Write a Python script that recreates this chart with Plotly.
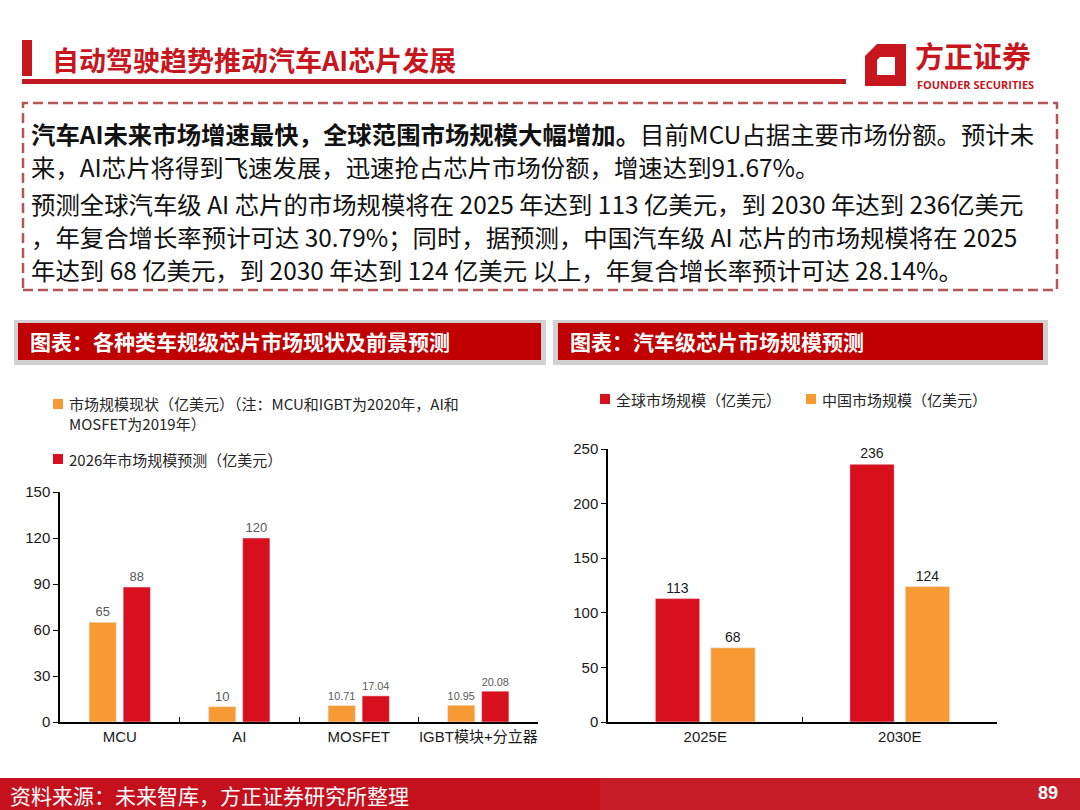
import plotly.graph_objects as go

W, H = 1080, 810

# ---------------------------------------------------------
# Data
# ---------------------------------------------------------
left_categories = ["MCU", "AI", "MOSFET", "IGBT模块+分立器"]
left_current = [65, 10, 10.71, 10.95]      # 市场规模现状（亿美元）
left_2026 = [88, 120, 17.04, 20.08]        # 2026年市场规模预测（亿美元）
left_ticks = [0, 30, 60, 90, 120, 150]

right_categories = ["2025E", "2030E"]
right_global = [113, 236]                  # 全球市场规模（亿美元）
right_china = [68, 124]                    # 中国市场规模（亿美元）
right_ticks = [0, 50, 100, 150, 200, 250]

ORANGE = "#F89A33"
RED = "#D80F1C"
BANNER = "#C00000"
TITLE_RED = "#C8161E"
CJK = "Noto Sans CJK SC"
LAT = "Liberation Sans, Noto Sans CJK SC"


def px(x):
    return x / W


def py(y):
    return 1 - y / H


# ---------------------------------------------------------
# Bars
# ---------------------------------------------------------
fig = go.Figure()

fig.add_trace(go.Bar(
    x=left_categories, y=left_current, marker_color=ORANGE,
    text=[f"{v:g}" for v in left_current], textposition="outside",
    textfont=dict(color="#595959", size=13, family=LAT),
    cliponaxis=False, xaxis="x", yaxis="y", showlegend=False,
))
fig.add_trace(go.Bar(
    x=left_categories, y=left_2026, marker_color=RED,
    text=[f"{v:g}" for v in left_2026], textposition="outside",
    textfont=dict(color="#595959", size=13, family=LAT),
    cliponaxis=False, xaxis="x", yaxis="y", showlegend=False,
))
fig.add_trace(go.Bar(
    x=right_categories, y=right_global, marker_color=RED,
    text=[f"{v:g}" for v in right_global], textposition="outside",
    textfont=dict(color="#1a1a1a", size=14, family=LAT),
    cliponaxis=False, xaxis="x2", yaxis="y2", showlegend=False,
))
fig.add_trace(go.Bar(
    x=right_categories, y=right_china, marker_color=ORANGE,
    text=[f"{v:g}" for v in right_china], textposition="outside",
    textfont=dict(color="#1a1a1a", size=14, family=LAT),
    cliponaxis=False, xaxis="x2", yaxis="y2", showlegend=False,
))

# ---------------------------------------------------------
# Decorations (slide frame)
# ---------------------------------------------------------
shapes = []


def rect(x0, y0, x1, y1, fill, line=None, layer="below", dash=None, lw=0):
    d = dict(type="rect", xref="paper", yref="paper",
             x0=px(x0), x1=px(x1), y0=py(y1), y1=py(y0),
             fillcolor=fill, layer=layer, line=dict(width=lw))
    if line:
        d["line"] = dict(color=line, width=lw, dash=dash)
    shapes.append(d)


def poly(points, fill):
    path = "M " + " L ".join(f"{px(x):.5f},{py(y):.5f}" for x, y in points) + " Z"
    shapes.append(dict(type="path", xref="paper", yref="paper", path=path,
                       fillcolor=fill, line=dict(width=0), layer="above"))


# header
rect(22, 40, 32, 76, TITLE_RED)
rect(22, 79, 846, 84, "#BE1A24")
# logo icon
poly([(877, 44), (906, 44), (906, 86), (865, 86), (865, 56)], TITLE_RED)
poly([(880, 57), (895, 57), (895, 75), (877, 75), (877, 60)], "white")
# dashed text box
rect(23, 103, 1057, 290, "rgba(0,0,0,0)", line="#B55555", dash="10px,5px", lw=2.5)
# banners with shadow
rect(14, 320, 546, 365, "rgba(0,0,0,0.18)")
rect(18, 323, 541, 360, BANNER)
rect(553, 320, 1048, 365, "rgba(0,0,0,0.18)")
rect(558, 323, 1043, 360, BANNER)
# legend swatches
rect(53, 399, 63, 409, ORANGE)
rect(53, 454, 63, 464, RED)
rect(600, 394, 610, 404, RED)
rect(806, 394, 816, 404, ORANGE)
# footer
rect(0, 778, 1080, 810, "#C5111D")
rect(600, 778, 1080, 810, "rgba(255,255,255,0.05)")

annotations = []


def text(x, y, s, size, color="black", family=CJK, anchor="left"):
    annotations.append(dict(x=px(x), y=py(y), xref="paper", yref="paper",
                            text=s, showarrow=False, xanchor=anchor, yanchor="middle",
                            font=dict(size=size, color=color, family=family), align="left"))


text(50, 59, "<b>自动驾驶趋势推动汽车AI芯片发展</b>", 27, TITLE_RED)
text(913, 55, "<b>方正证券</b>", 29, TITLE_RED)
text(915, 84, "<b>FOUNDER SECURITIES</b>", 11, TITLE_RED, family="Open Sans")

box_lines = [
    "<b>汽车AI未来市场增速最快，全球范围市场规模大幅增加。</b>目前MCU占据主要市场份额。预计未",
    "来，AI芯片将得到飞速发展，迅速抢占芯片市场份额，增速达到91.67%。",
    "预测全球汽车级 AI 芯片的市场规模将在 2025 年达到 113 亿美元，到 2030 年达到 236亿美元",
    "，年复合增长率预计可达 30.79%；同时，据预测，中国汽车级 AI 芯片的市场规模将在 2025",
    "年达到 68 亿美元，到 2030 年达到 124 亿美元 以上，年复合增长率预计可达 28.14%。",
]
for yy, s in zip([133, 166, 203, 237, 270], box_lines):
    text(29, yy, s, 24.4, "#111111")

text(28, 341, "<b>图表：各种类车规级芯片市场现状及前景预测</b>", 21, "white")
text(568, 341, "<b>图表：汽车级芯片市场规模预测</b>", 21, "white")

text(67, 413, "市场规模现状（亿美元）（注：MCU和IGBT为2020年，AI和<br>MOSFET为2019年）",
     15, "#262626")
text(67, 459, "2026年市场规模预测（亿美元）", 15, "#262626")
text(614, 399, "全球市场规模（亿美元）", 15, "#262626")
text(820, 399, "中国市场规模（亿美元）", 15, "#262626")

text(8, 795, "资料来源：未来智库，方正证券研究所整理", 21, "white")
text(1060, 793, "<b>89</b>", 18, "white", family=LAT, anchor="right")

axis_common = dict(showgrid=False, zeroline=False, showline=True, linecolor="black",
                   automargin=False,
                   tickfont=dict(family=LAT, size=15, color="#1a1a1a"))

fig.update_layout(
    width=W, height=H, autosize=False,
    margin=dict(l=0, r=0, t=0, b=0, pad=0, autoexpand=False),
    paper_bgcolor="white", plot_bgcolor="white",
    barmode="group", bargap=0.43, bargroupgap=0.2,
    shapes=shapes, annotations=annotations,
    xaxis=dict(domain=[px(60), px(538)], anchor="y", tickson="boundaries",
               ticks="inside", ticklen=5, tickcolor="black", linewidth=2,
               tickangle=0, **axis_common),
    yaxis=dict(domain=[py(722), py(492)], anchor="x", range=[0, 150],
               tickvals=left_ticks, ticks="outside", ticklen=5, tickcolor="black",
               linewidth=1.5, **axis_common),
    xaxis2=dict(domain=[px(608), px(997)], anchor="y2", tickson="boundaries",
                ticks="inside", ticklen=5, tickcolor="black", linewidth=2,
                tickangle=0, **axis_common),
    yaxis2=dict(domain=[py(722), py(449)], anchor="x2", range=[0, 250],
                tickvals=right_ticks, ticks="outside", ticklen=5, tickcolor="black",
                linewidth=1.5, **axis_common),
)

# page body has a default margin; drop it so the slide sits at the window origin
fig.write_html("out.html", config={"displayModeBar": False},
               post_script="document.body.style.margin='0';")
